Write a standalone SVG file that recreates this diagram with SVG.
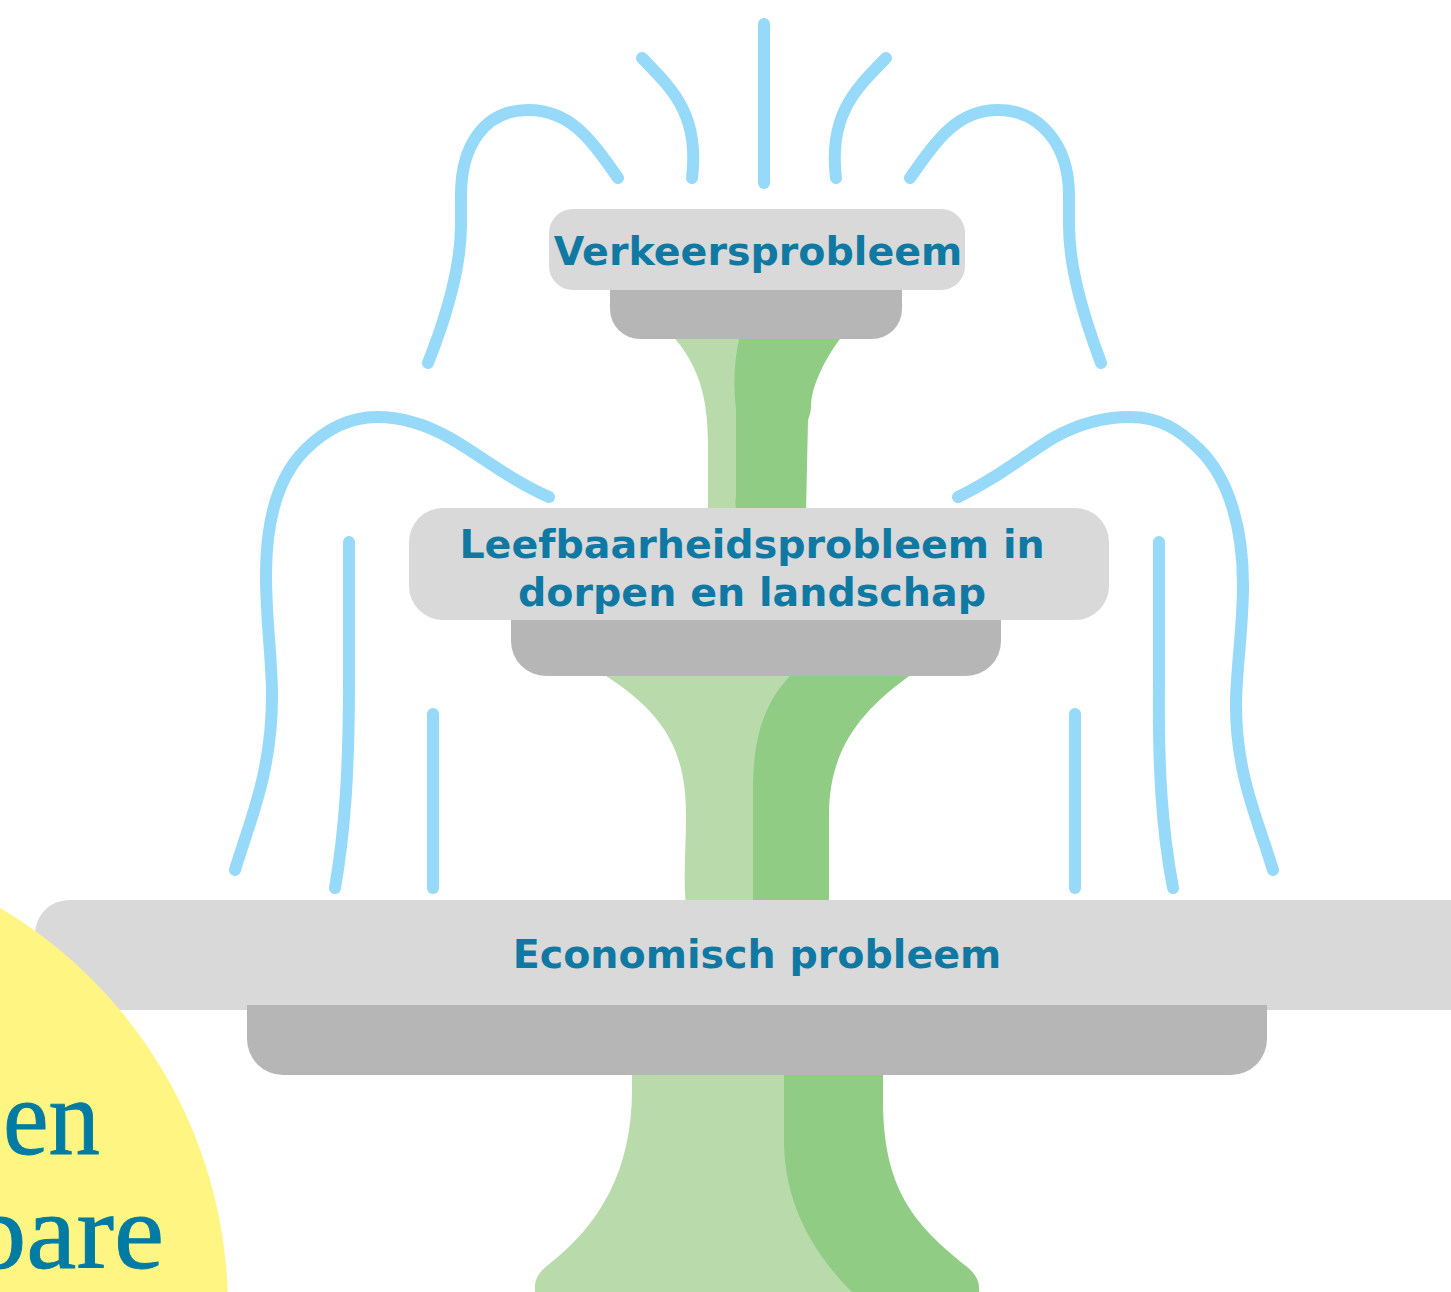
<svg xmlns="http://www.w3.org/2000/svg" width="1451" height="1292" viewBox="0 0 1451 1292">
<style>
.w{fill:none;stroke:#97d9f9;stroke-width:12;stroke-linecap:round;stroke-linejoin:round}
.lg{fill:#b9dbab}.dg{fill:#90cc84}.top{fill:#d9d9d9}.bot{fill:#b5b6b5}
.t{font-family:"DejaVu Sans",Verdana,sans-serif;font-weight:700;fill:#0f79a3;text-anchor:middle;font-size:39.6px}
.s{font-family:"Liberation Serif","DejaVu Serif",serif;fill:#007ba3;font-size:108px;stroke:#007ba3;stroke-width:.9}
</style>
<rect width="1451" height="1292" fill="#fff"/>
<g id="fountain-base">
<path class="lg" d="M632 1070V1090C632 1170 600 1225 548 1265C538 1273 534 1280 535 1292H860V1070Z"/>
<path class="dg" d="M784 1070V1140C784 1200 810 1250 852 1292H979C980 1282 976 1274 966 1266C915 1225 883 1190 883 1100V1070Z"/>
<path class="lg" d="M600 672C660 710 686 745 686 815C686 850 683 880 686 905H760V760L800 672Z"/>
<path class="dg" d="M794 672C765 700 753 735 753 790V905H829V815C829 750 860 710 915 672Z"/>
<path class="lg" d="M672 335C698 365 708 395 708 445V512H742V335Z"/>
<path class="dg" d="M740 335C734 360 733 385 736 410V495C735 503 735 508 738 512H806L808 420C811 412 811 408 811 405C812 385 825 358 843 335Z"/>
</g>
<g id="connectors">
<path class="w" d="M764 24V183"/>
<path class="w" d="M642 58C670 87 700 113 692 178"/>
<path class="w" d="M886 58C858 87 828 113 836 178"/>
<path class="w" d="M618 178C590 138 570 110 528 110C485 110 461 145 461 195V225C461 270 445 320 428 363"/>
<path class="w" d="M910 178C938 138 958 110 998 110C1040 110 1069 145 1069 195V225C1069 270 1085 320 1101 363"/>
<path class="w" d="M549 497C510 480 480 455 450 438C425 424 400 417 377 417C350 417 325 430 305 450C275 480 266 525 266 575C266 620 272 660 272 695C272 770 252 815 235 870"/>
<path class="w" d="M958 497C998 478 1025 455 1053 438C1078 424 1105 417 1130 417C1160 417 1180 430 1200 450C1230 480 1243 530 1243 585C1243 630 1236 670 1236 705C1236 775 1258 820 1273 870"/>
<path class="w" d="M349 542V680C349 770 345 830 335 888"/>
<path class="w" d="M1159 542V680C1158 770 1162 830 1173 888"/>
<path class="w" d="M433 714V888"/>
<path class="w" d="M1075 714V888"/>
</g>
<g id="node-verkeersprobleem">
<path class="bot" d="M610 285H902V309A30 30 0 0 1 872 339H640A30 30 0 0 1 610 309Z"/>
<rect class="top" x="549" y="209" width="416" height="81" rx="24"/>
<text class="t" x="758" y="265">Verkeersprobleem</text>
</g>
<g id="node-leefbaarheidsprobleem">
<path class="bot" d="M511 615H1001V641A35 35 0 0 1 966 676H546A35 35 0 0 1 511 641Z"/>
<rect class="top" x="409" y="508" width="700" height="112" rx="34"/>
<text class="t" x="752" y="558">Leefbaarheidsprobleem in</text>
<text class="t" x="752" y="606">dorpen en landschap</text>
</g>
<g id="node-economisch">
<path class="bot" d="M247 1000H1267V1039A36 36 0 0 1 1231 1075H283A36 36 0 0 1 247 1039Z"/>
<path class="top" d="M1451 900H69A34 34 0 0 0 35 934V1010H1451Z"/>
<path class="bot" d="M247 1005H1267V1012H247Z"/>
<text class="t" x="757" y="968">Economisch probleem</text>
</g>
<g id="node-sun">
<circle cx="-237" cy="1308" r="465" fill="#fff583"/>
<text class="s" x="3" y="1154" textLength="97" lengthAdjust="spacingAndGlyphs">en</text>
<text class="s" x="-30" y="1268" textLength="194" lengthAdjust="spacingAndGlyphs">pare</text>
</g>
</svg>
